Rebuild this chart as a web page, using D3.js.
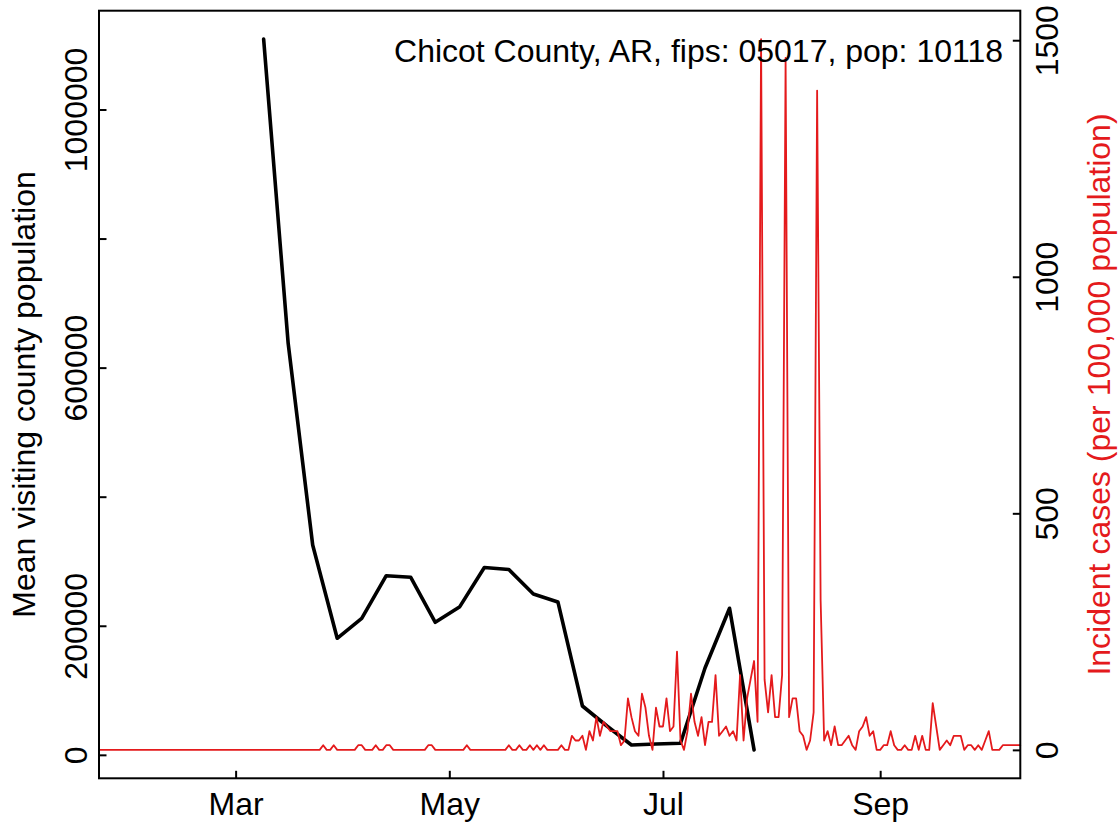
<!DOCTYPE html>
<html>
<head>
<meta charset="utf-8">
<script src="https://cdn.jsdelivr.net/npm/d3@7/dist/d3.min.js"></script>
<style>
  html, body { margin: 0; padding: 0; background: #ffffff; }
  svg { display: block; }
  text { font-family: "Liberation Sans", Arial, Helvetica, sans-serif; }
</style>
</head>
<body>
<svg id="chart" width="1119" height="827"></svg>
<script>
// ---------------- data ----------------
const titleText = "Chicot County, AR, fips: 05017, pop: 10118";
const leftAxisTitle = "Mean visiting county population";
const rightAxisTitle = "Incident cases (per 100,000 population)";

// weekly mean visiting county population (black line)
const visitDates = ["2020-03-09","2020-03-16","2020-03-23","2020-03-30","2020-04-06","2020-04-13",
  "2020-04-20","2020-04-27","2020-05-04","2020-05-11","2020-05-18","2020-05-25","2020-06-01",
  "2020-06-08","2020-06-15","2020-06-22","2020-06-29","2020-07-06","2020-07-13","2020-07-20","2020-07-27"];
const visitValues = [1109000, 637700, 325200, 180600, 211600, 277600,
  275100, 205400, 229600, 290300, 287200, 249300, 236900,
  75700, 44700, 15300, 16800, 17900, 134600, 227100, 7700];

// daily incident cases per 100,000 (red line), starting 2020-01-22
const caseStartDate = "2020-01-22";
const caseValues = [
  0,0,0,0,0,0,0,0,0,0,
  0,0,0,0,0,0,0,0,0,0,
  0,0,0,0,0,0,0,0,0,0,
  0,0,0,0,0,0,0,0,0,0,
  0,0,0,0,0,0,0,0,0,0,
  0,0,0,0,0,0,0,0,0,0,
  0,0,0,0,9.9,0,0,9.9,0,0,
  0,0,0,0,9.9,9.9,0,0,0,9.9,
  0,0,9.9,9.9,0,0,0,0,0,0,
  0,0,0,0,9.9,9.9,0,0,0,0,
  0,0,0,0,0,9.9,0,0,0,0,
  0,0,0,0,0,0,0,9.9,0,0,
  9.9,0,0,9.9,0,9.9,0,9.9,0,0,
  0,0,9.9,0,0,29.7,19.8,19.8,29.7,0,
  39.5,19.8,69.2,29.7,59.3,49.4,39.5,39.5,39.5,9.9,
  19.8,108.7,69.2,39.5,29.7,118.6,89,29.7,0,89,
  49.4,49.4,108.7,39.5,49.4,207.6,19.8,0,39.5,118.6,
  59.3,29.7,69.2,9.9,59.3,59.3,158.1,29.7,39.5,49.4,
  29.7,39.5,19.8,158.1,19.8,108.7,148.3,187.8,59.3,1502.3,
  148.3,79.1,158.1,69.2,69.2,158.1,1462.7,69.2,108.7,108.7,
  39.5,29.7,0,19.8,79.1,1393.6,316.3,19.8,39.5,9.9,
  49.4,9.9,9.9,19.8,29.7,9.9,0,39.5,49.4,69.2,
  29.7,39.5,0,0,9.9,9.9,39.5,9.9,0,0,
  9.9,0,0,29.7,0,29.7,0,0,98.8,49.4,
  0,9.9,19.8,9.9,29.7,29.7,29.7,0,9.9,9.9,
  0,9.9,0,19.8,39.5,0,0,0,9.9,9.9,
  9.9,9.9,9.9,9.9
];

// axis ticks
const xTickDates = ["2020-03-01","2020-05-01","2020-07-01","2020-09-01"];
const xTickLabels = ["Mar","May","Jul","Sep"];
const leftTicks = [0, 200000, 400000, 600000, 800000, 1000000];
const leftTickLabels = ["0","200000","","600000","","1000000"];
const rightTicks = [0, 500, 1000, 1500];
const rightTickLabels = ["0","500","1000","1500"];

// ---------------- layout ----------------
const box = { left: 99, right: 1020.3, top: 10.7, bottom: 778.3 };
const redColor = "#e41a1c";
const fontSize = 32;

const parse = d3.utcParse("%Y-%m-%d");
const startDay = parse(caseStartDate);
const cases = caseValues.map((v, i) => ({ date: d3.utcDay.offset(startDay, i), value: v }));
const visits = visitDates.map((d, i) => ({ date: parse(d), value: visitValues[i] }));

const svg = d3.select("#chart");
svg.append("rect").attr("width", 1119).attr("height", 827).attr("fill", "#ffffff");

const x = d3.scaleUtc()
  .domain([cases[0].date, cases[cases.length - 1].date])
  .range([box.left, box.right]);

function rDomain(vals) {
  const [mn, mx] = d3.extent(vals);
  const r = mx - mn;
  return [mn - 0.04 * r, mx + 0.04 * r];
}
const yL = d3.scaleLinear().domain(rDomain(visitValues)).range([box.bottom, box.top]);
const yR = d3.scaleLinear().domain(rDomain(caseValues)).range([box.bottom, box.top]);

// black line
svg.append("path")
  .datum(visits)
  .attr("fill", "none")
  .attr("stroke", "#000")
  .attr("stroke-width", 3.6)
  .attr("stroke-linejoin", "round")
  .attr("stroke-linecap", "round")
  .attr("d", d3.line().x(d => x(d.date)).y(d => yL(d.value)));

// red line
svg.append("path")
  .datum(cases)
  .attr("fill", "none")
  .attr("stroke", redColor)
  .attr("stroke-width", 1.8)
  .attr("stroke-linejoin", "round")
  .attr("stroke-linecap", "round")
  .attr("d", d3.line().x(d => x(d.date)).y(d => yR(d.value)));

// axes
const tickLen = 7.5;
const xAxis = d3.axisBottom(x)
  .tickValues(xTickDates.map(parse))
  .tickFormat((d, i) => xTickLabels[i])
  .tickSizeInner(-tickLen).tickSizeOuter(0);
const gx = svg.append("g").attr("transform", `translate(0,${box.bottom})`).call(xAxis);
gx.select(".domain").remove();
gx.selectAll("line").attr("stroke", "#000").attr("stroke-width", 2);
gx.selectAll("text")
  .attr("y", 36.7).attr("dy", null)
  .attr("fill", "#000")
  .style("font-size", fontSize + "px")
  .attr("font-family", null);

const yAxisL = d3.axisLeft(yL)
  .tickValues(leftTicks)
  .tickFormat((d, i) => leftTickLabels[i])
  .tickSizeInner(-tickLen).tickSizeOuter(0);
const gl = svg.append("g").attr("transform", `translate(${box.left},0)`).call(yAxisL);
gl.select(".domain").remove();
gl.selectAll("line").attr("stroke", "#000").attr("stroke-width", 2);
gl.selectAll("text")
  .attr("x", null).attr("dy", null)
  .attr("text-anchor", "middle")
  .attr("transform", "translate(-12,0) rotate(-90)")
  .attr("fill", "#000")
  .style("font-size", fontSize + "px")
  .attr("font-family", null);

const yAxisR = d3.axisRight(yR)
  .tickValues(rightTicks)
  .tickFormat((d, i) => rightTickLabels[i])
  .tickSizeInner(-tickLen).tickSizeOuter(0);
const gr = svg.append("g").attr("transform", `translate(${box.right},0)`).call(yAxisR);
gr.select(".domain").remove();
gr.selectAll("line").attr("stroke", "#000").attr("stroke-width", 2);
gr.selectAll("text")
  .attr("x", null).attr("dy", null)
  .attr("text-anchor", "middle")
  .attr("transform", "translate(38,0) rotate(-90)")
  .attr("fill", "#000")
  .style("font-size", fontSize + "px")
  .attr("font-family", null);

// box
svg.append("rect")
  .attr("x", box.left).attr("y", box.top)
  .attr("width", box.right - box.left).attr("height", box.bottom - box.top)
  .attr("fill", "none").attr("stroke", "#000").attr("stroke-width", 2);

// axis titles
const midY = (box.top + box.bottom) / 2;
svg.append("text")
  .attr("transform", `translate(35,${midY}) rotate(-90)`)
  .attr("text-anchor", "middle")
  .style("font-size", fontSize + "px")
  .attr("fill", "#000")
  .text(leftAxisTitle);
svg.append("text")
  .attr("transform", `translate(1110,${midY}) rotate(-90)`)
  .attr("text-anchor", "middle")
  .style("font-size", fontSize + "px")
  .attr("fill", redColor)
  .text(rightAxisTitle);

// title
svg.append("text")
  .attr("x", 1003).attr("y", 62)
  .attr("text-anchor", "end")
  .style("font-size", fontSize + "px")
  .attr("fill", "#000")
  .text(titleText);
</script>
</body>
</html>
